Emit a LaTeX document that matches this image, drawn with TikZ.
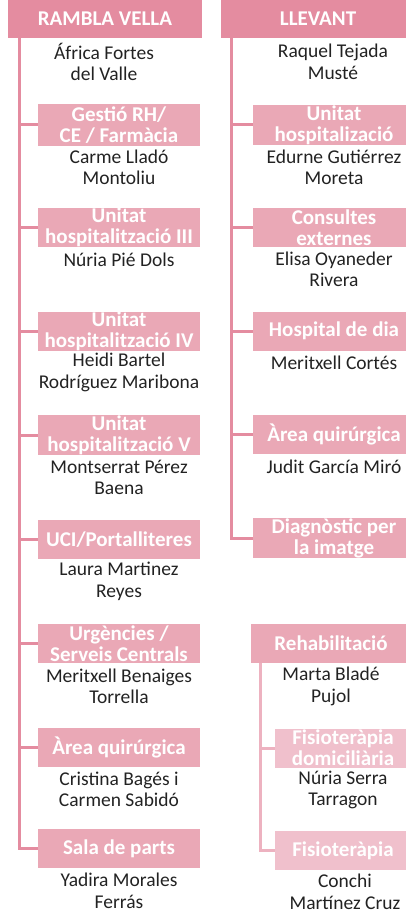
\documentclass[tikz,border=0pt]{standalone}
\usepackage{fontspec}
\setmainfont{Carlito}
\definecolor{headpink}{RGB}{228,140,160}
\definecolor{unitpink}{RGB}{234,168,182}
\definecolor{palepink}{RGB}{240,192,204}
\definecolor{palelink}{RGB}{237,178,192}
\definecolor{namegray}{RGB}{34,34,34}

\begin{document}
\begin{tikzpicture}
  [x=1pt,y=-1pt,
   every node/.style={inner sep=0pt, align=center},
   head/.style={fill=headpink, text=white, minimum width=194pt, minimum height=38pt,
     font=\fontsize{21}{21}\selectfont\bfseries},
   unit/.style={fill=unitpink, text=white, minimum width=162pt, minimum height=39pt,
     font=\fontsize{21}{21}\selectfont\bfseries},
   sub/.style={unit, fill=palepink, minimum width=136pt},
   who/.style={text=namegray, font=\fontsize{19.5}{21.5}\selectfont},
   link/.style={draw=headpink, line width=3pt},
   sublink/.style={draw=palelink, line width=3pt}]
  \useasboundingbox (0,0) rectangle (406,912);
  \clip (0,0) rectangle (406,912);

  % Rambla Vella
  \node[head] (rv) at (105,19) {RAMBLA VELLA};
  \node[who] (pAfrica) at (104,62) {África Fortes\\del Valle};
  \node[unit, minimum height=42pt] (gestio) at (119,125) {Gestió RH/\\CE / Farmàcia};
  \node[who] (pCarme) at (119,167.5) {Carme Lladó\\Montoliu};
  \node[unit] (uh3) at (119,227.5) {Unitat\\hospitalització III};
  \node[who] (pNuria) at (119,259.5) {Núria Pié Dols};
  \node[unit] (uh4) at (119,331.5) {Unitat\\hospitalització IV};
  \node[who] (pHeidi) at (119,372.5) {Heidi Bartel\\Rodríguez Maribona};
  \node[unit] (uh5) at (119,435) {Unitat\\hospitalització V};
  \node[who] (pMontse) at (119,477.5) {Montserrat Pérez\\Baena};
  \node[unit] (uci) at (119,539.5) {UCI/Portalliteres};
  \node[who] (pLaura) at (119,581.5) {Laura Martinez\\Reyes};
  \node[unit] (urg) at (119,643.5) {Urgències /\\Serveis Centrals};
  \node[who] (pMeritxB) at (119,686.5) {Meritxell Benaiges\\Torrella};
  \node[unit] (quirL) at (119,747) {Àrea quirúrgica};
  \node[who] (pCristina) at (119,789.5) {Cristina Bagés i\\Carmen Sabidó};
  \node[unit] (sala) at (119,848.5) {Sala de parts};
  \node[who] (pYadira) at (119,891) {Yadira Morales\\Ferrás};

  % Llevant
  \node[head] (llev) at (318,19) {LLEVANT};
  \node[who] (pRaquel) at (333,62) {Raquel Tejada\\Musté};
  \node[unit] (unith) at (334,125) {Unitat\\hospitalizació};
  \node[who] (pEdurne) at (334,167.5) {Edurne Gutiérrez\\Moreta};
  \node[unit] (consult) at (334,227.5) {Consultes\\externes};
  \node[who] (pElisa) at (334,269.5) {Elisa Oyaneder\\Rivera};
  \node[unit] (hdia) at (334,331) {Hospital de dia};
  \node[who] (pMeritxC) at (334,362.5) {Meritxell Cortés};
  \node[unit] (quirR) at (334,434.5) {Àrea quirúrgica};
  \node[who] (pJudit) at (334,466.5) {Judit García Miró};
  \node[unit] (diag) at (334,538) {Diagnòstic per\\la imatge};
  \node[unit, minimum width=160pt] (rehab) at (331,643) {Rehabilitació};
  \node[who] (pMarta) at (331,686.5) {Marta Bladé\\Pujol};
  \node[sub] (fisdom) at (343,748) {Fisioteràpia\\domiciliària};
  \node[who] (pNuriaS) at (343,790) {Núria Serra\\Tarragon};
  \node[sub] (fisio) at (343,850.5) {Fisioteràpia};
  \node[who] (pConchi) at (345,892) {Conchi\\Martínez Cruz};

  \foreach \to in {gestio,uh3,uh4,uh5,uci,urg,quirL,sala}
    \draw[link] ([xshift=11.5pt]rv.south west) |- (\to.west);
  \foreach \to in {unith,consult,hdia,quirR,diag}
    \draw[link] ([xshift=11pt]llev.south west) |- (\to.west);
  \foreach \to in {fisdom,fisio}
    \draw[sublink] ([xshift=10pt]rehab.south west) |- (\to.west);
\end{tikzpicture}
\end{document}
